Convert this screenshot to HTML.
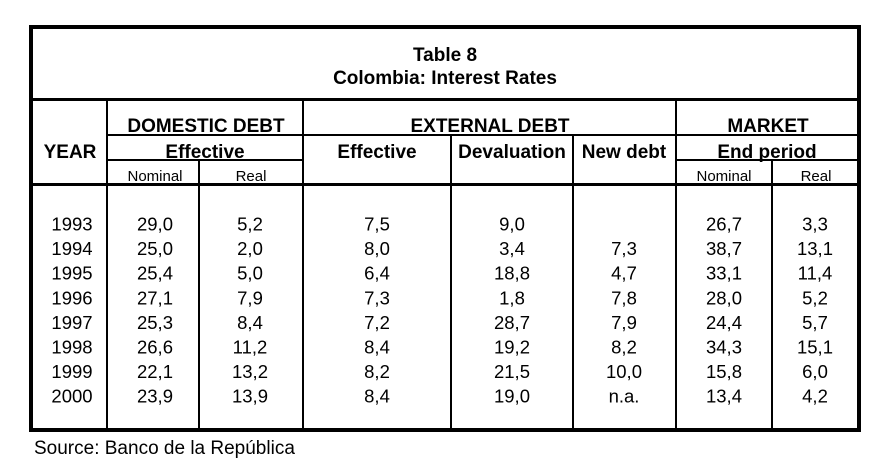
<!DOCTYPE html>
<html><head><meta charset="utf-8"><style>
body{margin:0;background:#fff}
svg{display:block}
text{font-family:"Liberation Sans",Arial,sans-serif;fill:#000}
.b{font-weight:bold;font-size:19px}
.d{font-size:18.5px}
.s{font-size:15px}
</style></head><body>
<svg width="891" height="466" viewBox="0 0 891 466">
<g fill="#000">
<rect x="29" y="25" width="832" height="4"/>
<rect x="29" y="428" width="832" height="4"/>
<rect x="29" y="25" width="4" height="407"/>
<rect x="857" y="25" width="4" height="407"/>
<rect x="29" y="98" width="832" height="3"/>
<rect x="29" y="183" width="832" height="3"/>
<rect x="106" y="101" width="2" height="327"/>
<rect x="302" y="101" width="2" height="327"/>
<rect x="675" y="101" width="2" height="327"/>
<rect x="107" y="134" width="750" height="2"/>
<rect x="450" y="135" width="2" height="293"/>
<rect x="572" y="135" width="2" height="293"/>
<rect x="107" y="159" width="196" height="2"/>
<rect x="676" y="159" width="181" height="2"/>
<rect x="198" y="160" width="2" height="268"/>
<rect x="771" y="160" width="2" height="268"/>
</g>
<g text-anchor="middle">
<text class="b" x="445" y="61">Table 8</text>
<text class="b" x="445" y="84">Colombia: Interest Rates</text>
<text class="b" x="206" y="132">DOMESTIC DEBT</text>
<text class="b" x="490" y="132">EXTERNAL DEBT</text>
<text class="b" x="768" y="132">MARKET</text>
<text class="b" x="70" y="158">YEAR</text>
<text class="b" x="205" y="158">Effective</text>
<text class="b" x="377" y="158">Effective</text>
<text class="b" x="512" y="158">Devaluation</text>
<text class="b" x="624" y="158">New debt</text>
<text class="b" x="767" y="158">End period</text>
<text class="s" x="155" y="181">Nominal</text>
<text class="s" x="251" y="181">Real</text>
<text class="s" x="724" y="181">Nominal</text>
<text class="s" x="816" y="181">Real</text>
</g>
<g class="d" text-anchor="middle">
<g transform="translate(0,230.5)">
<text x="72">1993</text><text x="155">29,0</text><text x="250">5,2</text><text x="377">7,5</text><text x="512">9,0</text><text x="724">26,7</text><text x="815">3,3</text>
</g>
<g transform="translate(0,255.1)">
<text x="72">1994</text><text x="155">25,0</text><text x="250">2,0</text><text x="377">8,0</text><text x="512">3,4</text><text x="624">7,3</text><text x="724">38,7</text><text x="815">13,1</text>
</g>
<g transform="translate(0,279.7)">
<text x="72">1995</text><text x="155">25,4</text><text x="250">5,0</text><text x="377">6,4</text><text x="512">18,8</text><text x="624">4,7</text><text x="724">33,1</text><text x="815">11,4</text>
</g>
<g transform="translate(0,304.3)">
<text x="72">1996</text><text x="155">27,1</text><text x="250">7,9</text><text x="377">7,3</text><text x="512">1,8</text><text x="624">7,8</text><text x="724">28,0</text><text x="815">5,2</text>
</g>
<g transform="translate(0,328.9)">
<text x="72">1997</text><text x="155">25,3</text><text x="250">8,4</text><text x="377">7,2</text><text x="512">28,7</text><text x="624">7,9</text><text x="724">24,4</text><text x="815">5,7</text>
</g>
<g transform="translate(0,353.5)">
<text x="72">1998</text><text x="155">26,6</text><text x="250">11,2</text><text x="377">8,4</text><text x="512">19,2</text><text x="624">8,2</text><text x="724">34,3</text><text x="815">15,1</text>
</g>
<g transform="translate(0,378.1)">
<text x="72">1999</text><text x="155">22,1</text><text x="250">13,2</text><text x="377">8,2</text><text x="512">21,5</text><text x="624">10,0</text><text x="724">15,8</text><text x="815">6,0</text>
</g>
<g transform="translate(0,402.7)">
<text x="72">2000</text><text x="155">23,9</text><text x="250">13,9</text><text x="377">8,4</text><text x="512">19,0</text><text x="624">n.a.</text><text x="724">13,4</text><text x="815">4,2</text>
</g>
</g>
<text x="34" y="454" style="font-size:19px">Source: Banco de la República</text>
</svg>
</body></html>
